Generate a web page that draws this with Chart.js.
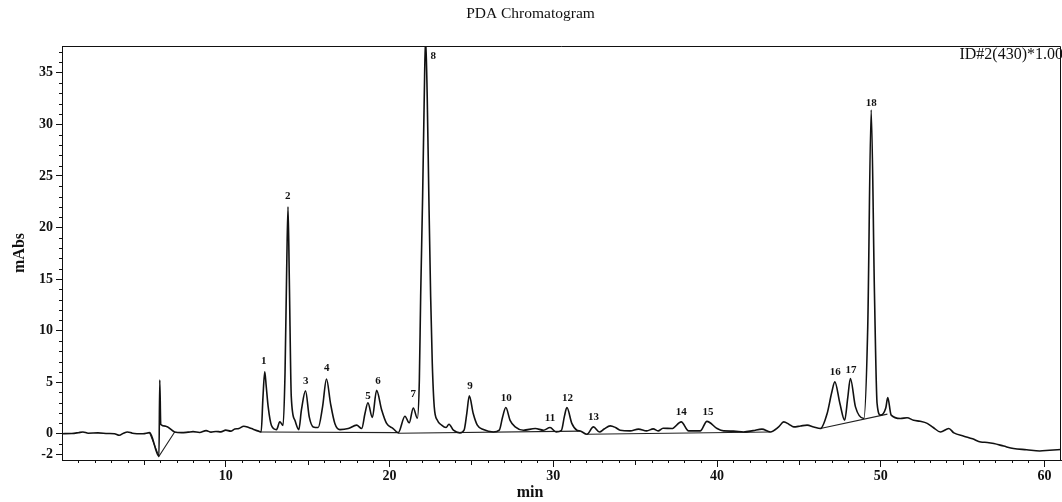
<!DOCTYPE html>
<html>
<head>
<meta charset="utf-8">
<script src="https://cdn.jsdelivr.net/npm/chart.js@4.4.1/dist/chart.umd.min.js"></script>
<style>
  html, body { margin: 0; padding: 0; background: #fff; }
  #wrap { width: 1062px; height: 502px; }
</style>
</head>
<body>
<div id="wrap"><canvas id="chart1"></canvas></div>
<script>
// retention time (min) and absorbance (mAbs)
const times = [0.0, 0.6, 1.0, 1.28, 1.6, 2.2, 2.8, 3.2, 3.5, 3.75, 4.0, 4.3, 4.95, 5.35, 5.92, 5.97, 6.03, 6.33, 6.88, 7.3,
  7.7, 8.0, 8.4, 8.8, 9.1, 9.4, 9.7, 10.0, 10.3, 10.55, 10.8, 11.1, 11.4, 11.67, 12.0, 12.16, 12.27, 12.38, 12.47, 12.59,
  12.79, 13.1, 13.3, 13.5, 13.62, 13.72, 13.8, 13.88, 14.0, 14.22, 14.46, 14.62, 14.87, 15.1, 15.34, 15.64, 15.91, 16.15, 16.4, 16.66,
  16.97, 17.48, 17.99, 18.3, 18.5, 18.68, 18.95, 19.21, 19.52, 19.82, 20.22, 20.53, 20.94, 21.2, 21.45, 21.7, 21.82, 21.9, 22.02, 22.12,
  22.2, 22.3, 22.4, 22.51, 22.61, 22.73, 22.92, 23.18, 23.45, 23.63, 23.9, 24.3, 24.55, 24.72, 24.87, 25.11, 25.36, 25.73, 26.34, 26.7,
  26.9, 27.1, 27.36, 27.67, 28.17, 28.9, 29.4, 29.8, 30.17, 30.5, 30.68, 30.83, 31.13, 31.44, 31.64, 32.05, 32.45, 32.82, 33.1, 33.47,
  33.8, 34.08, 34.69, 35.2, 35.7, 36.1, 36.4, 36.7, 37.24, 37.81, 38.26, 38.97, 39.38, 40.0, 40.4, 41.0, 41.62, 42.2, 42.74, 43.25,
  43.76, 44.07, 44.4, 44.68, 45.1, 45.5, 45.9, 46.31, 46.72, 47.0, 47.19, 47.5, 47.79, 47.98, 48.14, 48.45, 48.96, 49.2, 49.41, 49.61,
  49.77, 49.98, 50.3, 50.42, 50.63, 51.2, 51.6, 52.0, 52.4, 52.83, 53.2, 53.64, 54.15, 54.46, 55.07, 55.6, 56.1, 56.5, 56.9, 57.5,
  58.1, 58.9, 59.7, 60.3, 61.0];
const absorbance = [0.0, 0.02, 0.1, 0.17, 0.05, 0.08, 0.02, 0.0, -0.15, 0.05, 0.17, 0.05, 0.0, 0.1, -2.2, 5.2, 0.9, 0.73, 0.17, 0.1,
  0.15, 0.2, 0.12, 0.3, 0.15, 0.22, 0.18, 0.35, 0.25, 0.45, 0.5, 0.73, 0.6, 0.44, 0.25, 0.17, 3.5, 6.0, 4.6, 2.6,
  0.8, 0.4, 1.15, 0.8, 6.0, 16.0, 22.0, 15.0, 3.6, 1.3, 0.4, 2.3, 4.15, 1.6, 0.66, 0.6, 2.6, 5.3, 2.9, 1.0,
  0.4, 0.5, 0.83, 0.5, 1.96, 3.0, 1.57, 4.2, 2.3, 1.0, 0.5, 0.1, 1.7, 1.05, 2.5, 1.5, 5.2, 13.3, 23.0, 32.7,
  38.5, 32.7, 23.0, 13.3, 6.8, 2.6, 1.3, 0.83, 0.6, 0.92, 0.34, 0.08, 0.34, 2.0, 3.67, 1.96, 0.83, 0.4, 0.17, 0.34,
  1.6, 2.54, 1.3, 0.66, 0.34, 0.5, 0.34, 0.6, 0.17, 0.34, 1.7, 2.54, 1.0, 0.34, 0.27, -0.05, 0.66, 0.17, 0.45, 0.76,
  0.6, 0.34, 0.27, 0.44, 0.27, 0.47, 0.27, 0.53, 0.5, 1.15, 0.27, 0.27, 1.2, 0.5, 0.27, 0.25, 0.17, 0.3, 0.44, 0.17,
  0.66, 1.15, 0.9, 0.66, 0.75, 0.83, 0.65, 0.5, 1.96, 4.0, 5.03, 2.93, 1.3, 3.5, 5.36, 2.6, 1.47, 10.4, 31.4, 13.6,
  2.93, 1.8, 2.5, 3.5, 1.8, 1.47, 1.55, 1.3, 1.2, 1.0, 0.6, 0.17, 0.5, 0.08, -0.24, -0.5, -0.8, -0.85, -0.95, -1.2,
  -1.44, -1.55, -1.67, -1.6, -1.53];

// integration baselines drawn under the peaks (null breaks the line)
const baseTimes = [5.35, 5.92, 6.88, null, 12.16, 20.53, null, 20.53, 31.64, null, 32.05, 43.25, null, 46.31, 50.4];
const baseValues = [0.1, -2.2, 0.17, null, 0.17, 0.1, null, 0.05, 0.25, null, -0.05, 0.17, null, 0.5, 1.9];

// peak numbers and where they sit (min, mAbs)
const peakNames = ['1', '2', '3', '4', '5', '6', '7', '8', '9', '10', '11', '12', '13', '14', '15', '16', '17', '18'];
const peakLabelTimes = [12.32, 13.79, 14.89, 16.17, 18.68, 19.29, 21.45, 22.67, 24.91, 27.12, 29.8, 30.86, 32.45, 37.81, 39.44, 47.22, 48.18, 49.41];
const peakLabelValues = [7.04, 23.06, 5.1, 6.36, 3.64, 5.1, 3.8, 36.6, 4.64, 3.42, 1.47, 3.42, 1.57, 2.06, 2.12, 6.0, 6.17, 32.1];

const xTicks = [10, 20, 30, 40, 50, 60];
const yTicks = [-2, 0, 5, 10, 15, 20, 25, 30, 35];

const serif = '"Liberation Serif", "Times New Roman", serif';

const decorations = {
  id: 'decorations',
  afterDraw(chart) {
    const { ctx, chartArea: a, scales: { x, y } } = chart;
    ctx.save();
    ctx.strokeStyle = '#111';
    ctx.lineWidth = 1;
    ctx.beginPath();
    // top and right side of the frame
    ctx.moveTo(a.left, a.top + 0.5);
    ctx.lineTo(a.right - 0.5, a.top + 0.5);
    ctx.lineTo(a.right - 0.5, a.bottom);
    // minor ticks
    for (let t = 1; t < 61; t++) {
      if (t % 10 === 0) continue;
      const px = Math.round(x.getPixelForValue(t)) + 0.5;
      ctx.moveTo(px, a.bottom);
      ctx.lineTo(px, a.bottom + (t % 5 === 0 ? 5 : 3));
    }
    for (let v = -2; v <= 37; v++) {
      if (yTicks.includes(v)) continue;
      const py = Math.round(y.getPixelForValue(v)) + 0.5;
      ctx.moveTo(a.left - 3, py);
      ctx.lineTo(a.left, py);
    }
    ctx.stroke();

    ctx.fillStyle = '#111';
    ctx.textAlign = 'center';
    ctx.textBaseline = 'middle';
    ctx.font = 'bold 11px ' + serif;
    peakNames.forEach((name, i) => {
      ctx.fillText(name, x.getPixelForValue(peakLabelTimes[i]), y.getPixelForValue(peakLabelValues[i]));
    });
    // x axis title sits at the page centre, not the plot centre
    ctx.font = 'bold 16px ' + serif;
    ctx.fillText('min', 530, 493);
    ctx.textAlign = 'right';
    ctx.font = '16px ' + serif;
    ctx.fillText('ID#2(430)*1.00', 1063, 55);
    ctx.restore();
  }
};

var ctx = document.getElementById('chart1').getContext('2d');
new Chart(ctx, {
  type: 'line',
  data: {
    datasets: [{
      label: 'PDA 430 nm',
      data: times.map((t, i) => ({ x: t, y: absorbance[i] })),
      borderColor: '#111',
      borderWidth: 1.6,
      pointRadius: 0,
      cubicInterpolationMode: 'monotone'
    }, {
      label: 'baseline',
      data: baseTimes.map((t, i) => ({ x: t, y: baseValues[i] })),
      borderColor: '#222',
      borderWidth: 1.1,
      pointRadius: 0,
      tension: 0,
      spanGaps: false
    }]
  },
  options: {
    responsive: true,
    maintainAspectRatio: false,
    animation: false,
    layout: { padding: { left: 0, right: 1, top: 0, bottom: 0 } },
    plugins: {
      legend: { display: false },
      tooltip: { enabled: false },
      title: {
        display: true,
        text: 'PDA Chromatogram',
        color: '#111',
        font: { family: serif, size: 15.5, weight: 'normal' },
        padding: { top: 5, bottom: 22.4 }
      }
    },
    scales: {
      x: {
        type: 'linear',
        min: 0,
        max: 61,
        afterBuildTicks: (scale) => { scale.ticks = xTicks.map(v => ({ value: v })); },
        afterFit: (scale) => { scale.height = 42; },
        grid: { drawOnChartArea: false, tickLength: 7, color: '#111' },
        border: { display: true, color: '#111', width: 1 },
        ticks: { color: '#111', padding: 1, maxRotation: 0, font: { family: serif, size: 14, weight: 'bold' } },
        title: { display: false }
      },
      y: {
        min: -2.55,
        max: 37.6,
        afterBuildTicks: (scale) => { scale.ticks = yTicks.map(v => ({ value: v })); },
        afterFit: (scale) => { scale.width = 62; },
        grid: { drawOnChartArea: false, tickLength: 6, color: '#111' },
        border: { display: true, color: '#111', width: 1 },
        ticks: { color: '#111', padding: 3, font: { family: serif, size: 14, weight: 'bold' } },
        title: { display: true, text: 'mAbs', color: '#111', padding: { top: 10, bottom: 0 }, font: { family: serif, size: 16, weight: 'bold' } }
      }
    }
  },
  plugins: [decorations]
});
</script>
</body>
</html>
